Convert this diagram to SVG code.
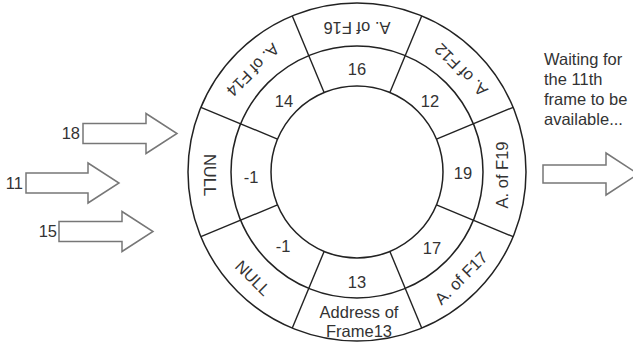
<svg xmlns="http://www.w3.org/2000/svg" width="633" height="345" viewBox="0 0 633 345">
<style>
.ring{fill:none;stroke:#222;stroke-width:1.5}
.div{stroke:#222;stroke-width:1.4}
.arrow{fill:#fff;stroke:#777;stroke-width:1.5;stroke-linejoin:miter}
text{font-family:"Liberation Sans",Arial,sans-serif;font-size:16.5px;fill:#333}
.c{text-anchor:middle}
</style>
<rect width="633" height="345" fill="#fff"/>
<g id="buffer">
<circle class="ring" cx="357" cy="172" r="169"/>
<circle class="ring" cx="357" cy="172" r="126"/>
<circle class="ring" cx="357" cy="172" r="86"/>
<g id="dividers">
<line class="div" x1="389.9" y1="92.5" x2="421.7" y2="15.9"/>
<line class="div" x1="324.1" y1="92.5" x2="292.3" y2="15.9"/>
<line class="div" x1="436.5" y1="139.1" x2="513.1" y2="107.3"/>
<line class="div" x1="436.5" y1="204.9" x2="513.1" y2="236.7"/>
<line class="div" x1="389.9" y1="251.5" x2="421.7" y2="328.1"/>
<line class="div" x1="324.1" y1="251.5" x2="292.3" y2="328.1"/>
<line class="div" x1="277.5" y1="204.9" x2="200.9" y2="236.7"/>
<line class="div" x1="277.5" y1="139.1" x2="200.9" y2="107.3"/>
</g>
</g>
<g id="slot-top"><text class="c" x="357" y="75">16</text><text class="c" transform="translate(357,28) rotate(180)" dy="0.35em">A. of F16</text></g>
<g id="slot-topright"><text class="c" x="430" y="107">12</text><text class="c" transform="translate(461,70) rotate(-135)" dy="0.35em">A. of F12</text></g>
<g id="slot-right"><text class="c" x="463" y="179">19</text><text class="c" transform="translate(502,175) rotate(-90)" dy="0.35em">A. of F19</text></g>
<g id="slot-bottomright"><text class="c" x="432" y="254">17</text><text class="c" transform="translate(461,278) rotate(-45)" dy="0.35em">A. of F17</text></g>
<g id="slot-bottom"><text class="c" x="357" y="288">13</text><text class="c" x="359" y="318">Address of</text><text class="c" x="359" y="337">Frame13</text></g>
<g id="slot-bottomleft"><text class="c" x="283" y="252">-1</text><text class="c" transform="translate(253,278) rotate(45)" dy="0.35em">NULL</text></g>
<g id="slot-left"><text class="c" x="251" y="183">-1</text><text class="c" transform="translate(210,175) rotate(90)" dy="0.35em">NULL</text></g>
<g id="slot-topleft"><text class="c" x="284" y="107">14</text><text class="c" transform="translate(253,70) rotate(135)" dy="0.35em">A. of F14</text></g>
<g id="in18"><text x="80" y="139" text-anchor="end">18</text><path class="arrow" d="M83,123.5H146V113.5L177,133.5L146,153.5V143.5H83Z"/></g>
<g id="in11"><text x="23" y="189" text-anchor="end">11</text><path class="arrow" d="M26,173H88V163L119,183L88,203V193H26Z"/></g>
<g id="in15"><text x="57" y="237" text-anchor="end">15</text><path class="arrow" d="M59,221.5H122V211.5L153,231.5L122,251.5V241.5H59Z"/></g>
<g id="waiting"><text x="544" y="65">Waiting for</text><text x="544" y="85">the 11th</text><text x="544" y="105">frame to be</text><text x="544" y="125">available...</text></g>
<g id="out"><path class="arrow" d="M543,165H606V153L638,174L606,195V183H543Z"/></g>
</svg>
